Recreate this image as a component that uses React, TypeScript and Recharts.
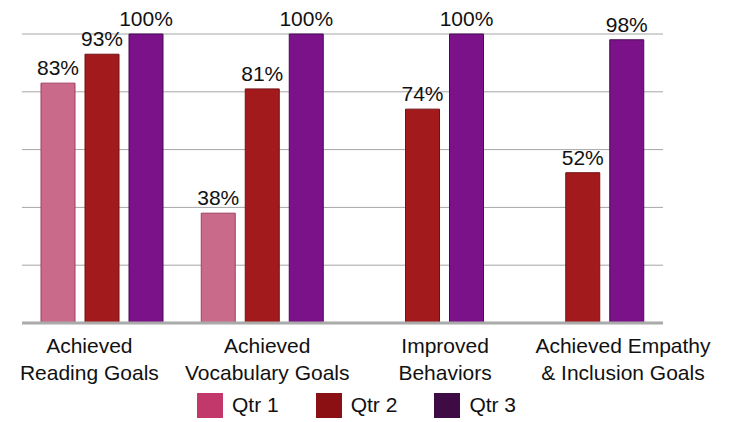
import { BarChart, Bar, XAxis, YAxis, CartesianGrid, LabelList, Legend } from "recharts";

const categories = [
  "Achieved\nReading Goals",
  "Achieved\nVocabulary Goals",
  "Improved\nBehaviors",
  "Achieved Empathy\n& Inclusion Goals",
];
const qtr1 = [83, 38, null, null];
const qtr2 = [93, 81, 74, 52];
const qtr3 = [100, 100, 100, 98];
const yTicks = [0, 20, 40, 60, 80, 100];

const series = [
  { key: "qtr1", name: "Qtr 1", fill: "#C96A8A", stroke: "#9E3F62", legend: "#C2386A" },
  { key: "qtr2", name: "Qtr 2", fill: "#A21A1C", stroke: "#731012", legend: "#8A1014" },
  { key: "qtr3", name: "Qtr 3", fill: "#7B128A", stroke: "#4B0A55", legend: "#3E0B45" },
];

const data = categories.map((name, i) => ({
  name,
  qtr1: qtr1[i],
  qtr2: qtr2[i],
  qtr3: qtr3[i],
}));

const FONT = '"Liberation Sans", Arial, sans-serif';

const fmt = (v: any) => (v == null ? "" : `${v}%`);

// the source spreads its category labels a little wider than the bar groups
const CategoryTick = ({ x, y, payload }: any) => {
  const lines = String(payload.value).split("\n");
  const lx = x * 1.11 - 24;
  return (
    <text x={lx} y={y} textAnchor="middle" fill="#111" fontSize={21} fontFamily={FONT}>
      {lines.map((line, i) => (
        <tspan key={i} x={lx} dy={i === 0 ? 22 : 27}>
          {line}
        </tspan>
      ))}
    </text>
  );
};

const LegendBox = () => (
  <div style={{ display: "flex", alignItems: "center", height: 26, fontFamily: FONT }}>
    {series.map((s) => (
      <div key={s.key} style={{ display: "flex", alignItems: "center", marginRight: 37 }}>
        <span
          style={{
            display: "inline-block",
            width: 26,
            height: 25,
            background: s.legend,
            marginRight: 9,
          }}
        />
        <span style={{ fontSize: 21, color: "#111" }}>{s.name}</span>
      </div>
    ))}
  </div>
);

export default function App() {
  return (
    <div style={{ position: "absolute", left: 0, top: 0, width: 730, height: 422, background: "#fff" }}>
      <BarChart
        width={730}
        height={422}
        data={data}
        margin={{ top: 34, right: 67, left: 22, bottom: 0 }}
        barSize={34}
        barGap={10}
        style={{ fontFamily: FONT }}
      >
        <CartesianGrid vertical={false} stroke="#A6A6A6" />
        <YAxis hide domain={[0, 100]} ticks={yTicks} />
        <XAxis
          dataKey="name"
          height={73}
          axisLine={{ stroke: "#AAAAAA", strokeWidth: 3 }}
          tickLine={false}
          interval={0}
          tick={<CategoryTick />}
        />
        <Legend
          verticalAlign="bottom"
          content={<LegendBox />}
          wrapperStyle={{ left: 197, top: 392, width: 360 }}
        />
        {series.map((s) => (
          <Bar
            key={s.key}
            dataKey={s.key}
            name={s.name}
            fill={s.fill}
            stroke={s.stroke}
            strokeWidth={1}
            isAnimationActive={false}
          >
            <LabelList
              dataKey={s.key}
              position="top"
              offset={8}
              formatter={fmt}
              fill="#111"
              fontSize={21}
              fontFamily={FONT}
            />
          </Bar>
        ))}
      </BarChart>
    </div>
  );
}
